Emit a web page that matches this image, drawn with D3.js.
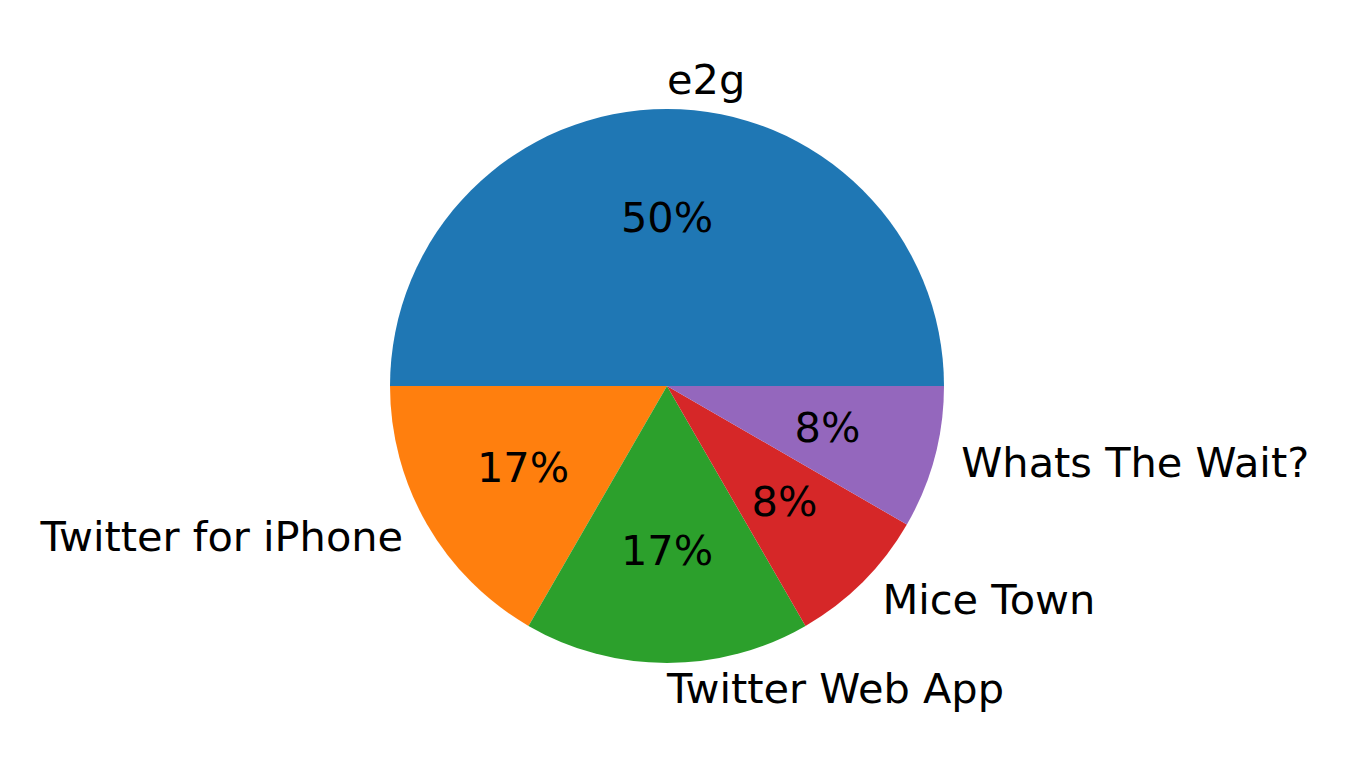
<!DOCTYPE html>
<html>
<head>
<meta charset="utf-8">
<script src="https://cdn.jsdelivr.net/npm/d3@7"></script>
<style>
  html, body { margin: 0; padding: 0; background: #fff; }
  svg { display: block; }
  text { font-family: "DejaVu Sans", sans-serif; fill: #000; }
</style>
</head>
<body>
<svg id="chart" width="1351" height="773"></svg>
<script>
const categories = ["e2g", "Twitter for iPhone", "Twitter Web App", "Mice Town", "Whats The Wait?"];
const values = [6, 2, 2, 1, 1];
const colors = ["#1f77b4", "#ff7f0e", "#2ca02c", "#d62728", "#9467bd"];

const width = 1351, height = 773;
const cx = 667, cy = 386, radius = 277;
const fontSize = 41.5;

const svg = d3.select("#chart");
const g = svg.append("g").attr("transform", `translate(${cx},${cy})`);

const data = categories.map((c, i) => ({ name: c, value: values[i], color: colors[i] }));
const total = d3.sum(values);

// matplotlib: start at 3 o'clock, counterclockwise
const pie = d3.pie().value(d => d.value).sort(null)
  .startAngle(Math.PI / 2).endAngle(Math.PI / 2 - 2 * Math.PI);
const arcs = pie(data);
const arc = d3.arc().innerRadius(0).outerRadius(radius);

g.selectAll("path.slice").data(arcs).enter().append("path")
  .attr("class", "slice")
  .attr("d", arc)
  .attr("fill", d => d.data.color);

function pos(d, k) {
  const a = (d.startAngle + d.endAngle) / 2;
  return [k * radius * Math.sin(a), -k * radius * Math.cos(a)];
}

g.selectAll("text.label").data(arcs).enter().append("text")
  .attr("class", "label")
  .attr("x", d => pos(d, 1.1)[0])
  .attr("y", d => pos(d, 1.1)[1] - 2)
  .attr("text-anchor", d => {
    const x = pos(d, 1.1)[0];
    return Math.abs(x) < 1e-6 ? "start" : (x < 0 ? "end" : "start");
  })
  .attr("dominant-baseline", "central")
  .style("font-size", fontSize + "px")
  .text(d => d.data.name);

g.selectAll("text.pct").data(arcs).enter().append("text")
  .attr("class", "pct")
  .attr("x", d => pos(d, 0.6)[0])
  .attr("y", d => pos(d, 0.6)[1] - 2)
  .attr("text-anchor", "middle")
  .attr("dominant-baseline", "central")
  .style("font-size", fontSize + "px")
  .text(d => Math.round(d.data.value / total * 100) + "%");
</script>
</body>
</html>
